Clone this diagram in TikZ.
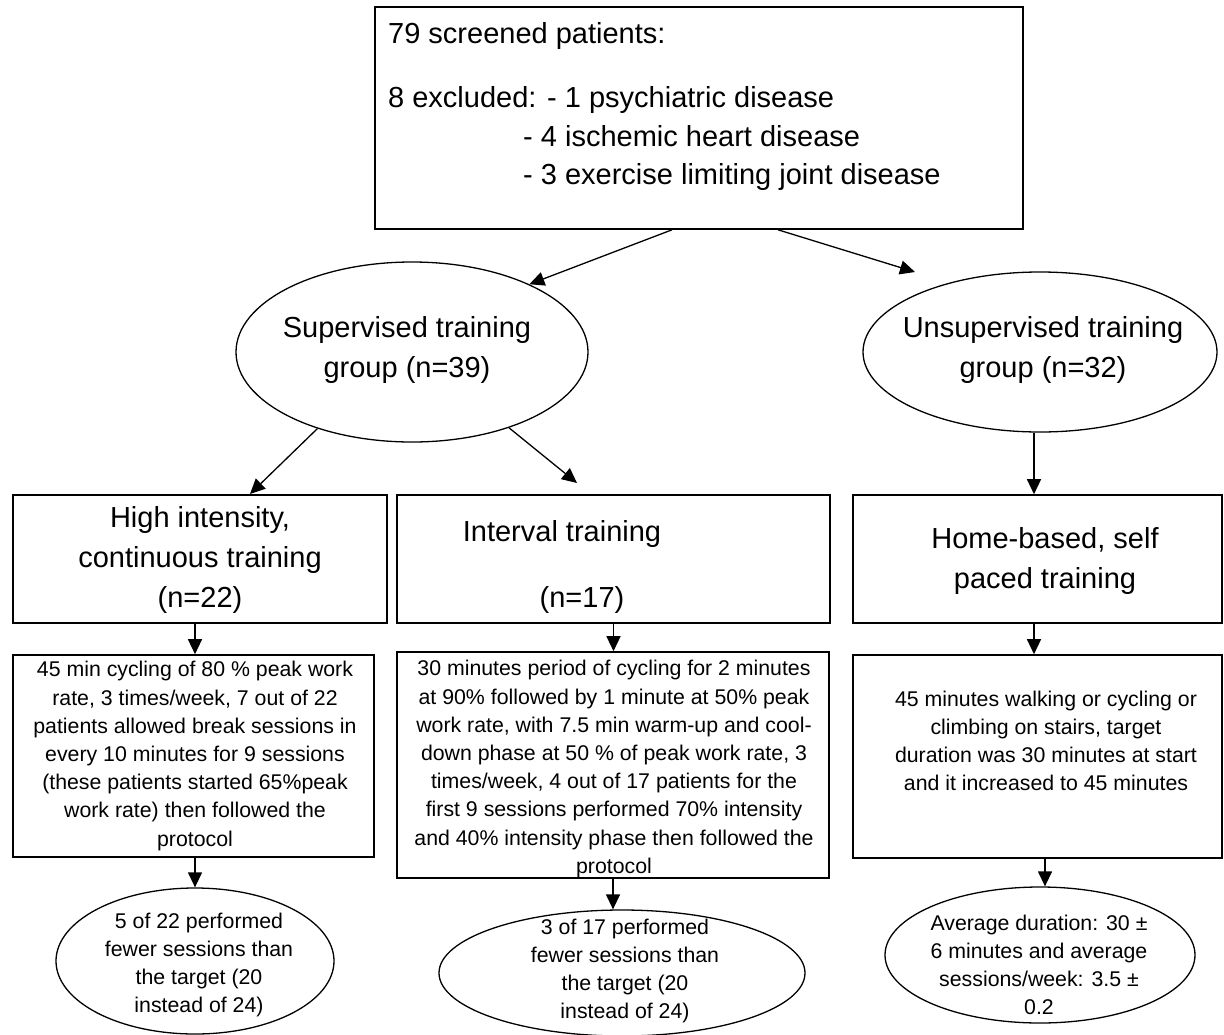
\documentclass[tikz,border=0pt]{standalone}
\usepackage{fontspec}
\setmainfont{Liberation Sans}
\usetikzlibrary{shapes.geometric,arrows.meta,calc}
\begin{document}
\begin{tikzpicture}[x=1pt,y=-1pt,
  box/.style={draw, line width=1.6pt, inner sep=0pt, rectangle},
  oval/.style={draw, line width=1.3pt, inner sep=0pt, ellipse},
  big/.style={font=\fontsize{29}{40}\selectfont, align=center, inner sep=0pt},
  small/.style={font=\fontsize{21.3}{28.2}\selectfont, align=center, inner sep=0pt},
  arr/.style={line width=1.3pt, -{Triangle[length=15pt,width=14pt]}}]
\useasboundingbox (0,0) rectangle (1224,1034);

% top box
\node[box, minimum width=648pt, minimum height=222pt] (top) at (699,118) {};
\node[big, anchor=base west] (t1) at (388,43) {79 screened patients:};
\node[big, anchor=base west] (t2) at (388,107) {8 excluded: - 1 psychiatric disease};
\node[big, anchor=base west] (t3) at (523,146) {- 4 ischemic heart disease};
\node[big, anchor=base west] (t4) at (523,184) {- 3 exercise limiting joint disease};

% groups
\node[oval, minimum width=352pt, minimum height=180pt] (sup) at (412,352) {};
\node[big] (supt) at (407,350) {Supervised training\\group (n=39)};
\node[oval, minimum width=354pt, minimum height=160pt] (uns) at (1040,352) {};
\node[big] (unst) at (1043,350) {Unsupervised training\\group (n=32)};

% training boxes
\node[box, minimum width=374pt, minimum height=128pt] (high) at (200,559) {};
\node[big] (hight) at (200,560) {High intensity,\\continuous training\\(n=22)};
\node[box, minimum width=433pt, minimum height=128pt] (int) at (613.5,559) {};
\node[big] (intt1) at (562,534) {Interval training};
\node[big] (intt2) at (582,600) {(n=17)};
\node[box, minimum width=369pt, minimum height=128pt] (home) at (1037.5,559) {};
\node[big] (homet) at (1045,561) {Home-based, self\\paced training};

% detail boxes
\node[box, minimum width=361pt, minimum height=202pt] (hd) at (193.5,756) {};
\node[small] (hdt) at (195,756) {45 min cycling of 80 \% peak work\\rate, 3 times/week, 7 out of 22\\patients allowed break sessions in\\every 10 minutes for 9 sessions\\(these patients started 65\%peak\\work rate) then followed the\\protocol};
\node[box, minimum width=432pt, minimum height=226pt] (idet) at (613,765) {};
\node[small] (idt) at (614,769) {30 minutes period of cycling for 2 minutes\\at 90\% followed by 1 minute at 50\% peak\\work rate, with 7.5 min warm-up and cool-\\down phase at 50 \% of peak work rate, 3\\times/week, 4 out of 17 patients for the\\first 9 sessions performed 70\% intensity\\and 40\% intensity phase then followed the\\protocol};
\node[box, minimum width=369pt, minimum height=203pt] (hdet) at (1037.5,756.5) {};
\node[small] (hdett) at (1046,741) {45 minutes walking or cycling or\\climbing on stairs, target\\duration was 30 minutes at start\\and it increased to 45 minutes};

% results
\node[oval, minimum width=278pt, minimum height=146pt] (r1) at (195,961) {};
\node[small] (r1t) at (199,965) {5 of 22 performed\\fewer sessions than\\the target (20\\instead of 24)};
\node[oval, minimum width=366pt, minimum height=126pt] (r2) at (622,973) {};
\node[small] (r2t) at (625,971) {3 of 17 performed\\fewer sessions than\\the target (20\\instead of 24)};
\node[oval, minimum width=310pt, minimum height=136pt] (r3) at (1040,955) {};
\node[small] (r3t) at (1039,965) {Average duration: 30 ±\\6 minutes and average\\sessions/week: 3.5 ±\\0.2};

% arrow tips that stop short of their targets
\coordinate (tipU) at (915,272);
\coordinate (tipI) at (577,483);
\coordinate (tipH) at (250,494);

% connectors
\draw[arr] ([xshift=-27pt]top.south) -- (sup.30);
\draw[arr] ([xshift=79pt]top.south) -- (tipU);
\draw[arr] (sup.219) -- (tipH);
\draw[arr] (sup.-38) -- (tipI);
\draw[arr] ([xshift=-6pt]uns.south) -- ([xshift=-6pt]uns.south |- home.north);
\draw[arr] ([xshift=-5pt]high.south) -- ([xshift=-5pt]high.south |- hd.north);
\draw[arr] (int.south) -- (int.south |- idet.north);
\draw[arr] ([xshift=-3.5pt]home.south) -- ([xshift=-3.5pt]home.south |- hdet.north);
\draw[arr] (hd.south -| r1.north) -- (r1.north);
\draw[arr] (idet.south) -- (idet.south |- r2.north);
\draw[arr] ([xshift=7.5pt]hdet.south) -- ([xshift=7.5pt]hdet.south |- r3.north);
\end{tikzpicture}
\end{document}
